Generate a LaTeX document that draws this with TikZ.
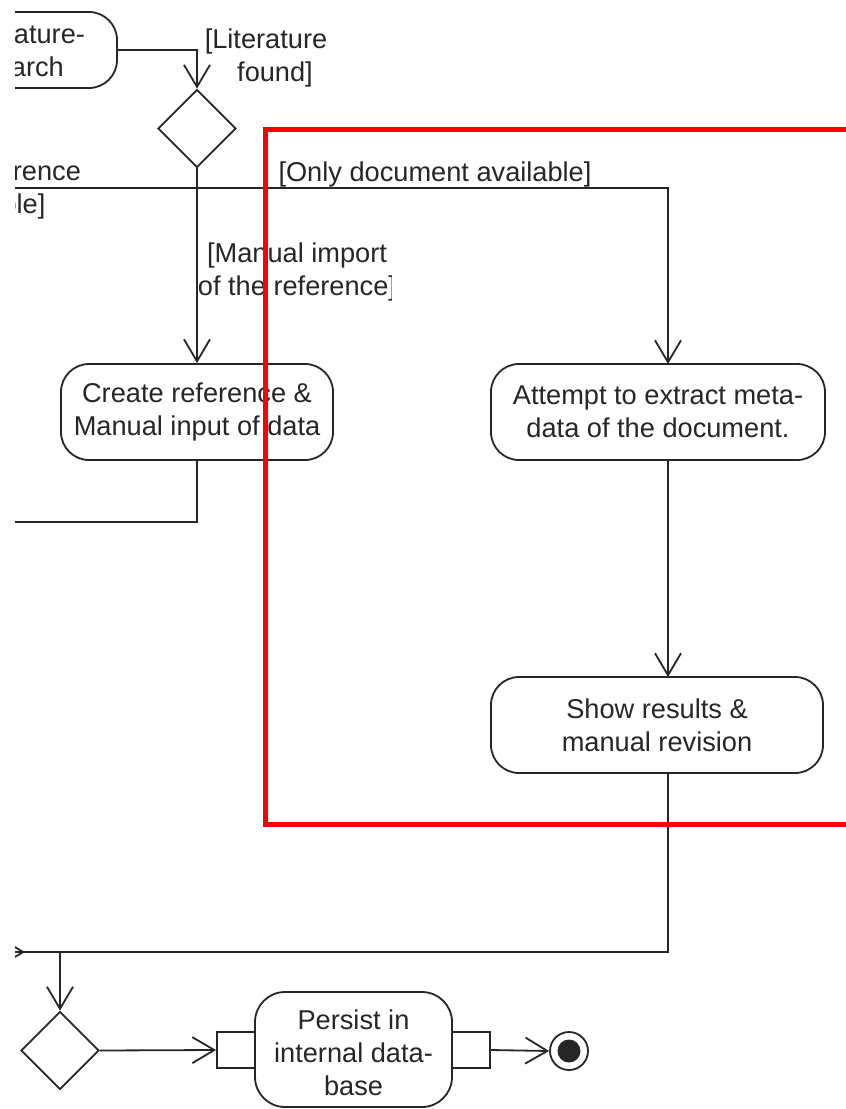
\documentclass[tikz,border=0pt]{standalone}
\usepackage{fontspec}
\setmainfont{Liberation Sans}
\usetikzlibrary{arrows.meta,shapes.geometric,calc}
\definecolor{ink}{HTML}{262626}
\definecolor{frame}{HTML}{FF0000}
\newcommand\dfont{\fontsize{27.2}{33}\selectfont}

\begin{document}
\begin{tikzpicture}[x=1pt,y=-1pt,
  flow/.style={draw=ink,line width=1.8pt},
  arr/.style={flow,-{Straight Barb[length=22pt,width=26pt]}},
  action/.style={draw=ink,line width=1.8pt,rounded corners=28pt,align=center,
    inner sep=0pt,font=\dfont,text=ink},
  decision/.style={diamond,draw=ink,line width=1.8pt,minimum width=78pt,
    minimum height=78pt,inner sep=0pt},
  pin/.style={rectangle,draw=ink,line width=1.8pt,minimum width=38pt,
    minimum height=36pt,inner sep=0pt,fill=white},
  guard/.style={align=center,inner sep=0pt,font=\dfont,text=ink},
]
\useasboundingbox (0,0) rectangle (846,1109);
\fill[white] (0,0) rectangle (846,1109);
\begin{scope}
% visible part of the activity diagram
\clip (15,0) rectangle (846,1109);

% activity nodes
\node[action,minimum width=188pt,minimum height=76pt] (search) at (23,50) {Literature-\\search};
\node[decision] (choice) at (197,128.5) {};
\node[action,minimum width=272pt,minimum height=96pt] (create) at (197,412)
  {Create reference \&\\Manual input of data};
\node[action,minimum width=334pt,minimum height=96pt] (attempt) at (658,412)
  {Attempt to extract meta-\\data of the document.};
\node[action,minimum width=332pt,minimum height=96pt] (show) at (657,725)
  {Show results \&\\manual revision};
\node[decision] (merge) at (60,1050.5) {};
\node[action,minimum width=197pt,minimum height=115pt,rounded corners=30pt] (persist) at (353.5,1049.5)
  {\rule{0pt}{26pt}Persist in\\internal data-\\base};
\node[pin] (pinin) at (236,1050) {};
\node[pin] (pinout) at (471,1050) {};
\node[circle,draw=ink,line width=1.8pt,minimum size=38pt,inner sep=0pt] (final) at (569,1051) {};
\fill[ink] (final.center) circle (11.5);

% routing points
\coordinate (split) at (197,188);
\coordinate (leftout) at (-60,188);
\coordinate (ain) at (668,364);
\coordinate (aout) at (668,460);
\coordinate (sin) at (668,677);
\coordinate (sout) at (668,773);
\coordinate (cout) at (-60,522);
\coordinate (join) at (60,952);
\coordinate (joinleft) at (-60,952);
\coordinate (intip) at (25,952);
\coordinate (infrom) at (-60,952);

% connectors
\draw[arr] (search.east) -| (choice.north);
\draw[flow] (choice.south) -- (split) -- (leftout);
\draw[arr] (split) -| (ain);
\draw[arr] (choice.south) -- (create.north);
\draw[flow] (create.south) |- (cout);
\draw[arr] (aout) -- (sin);
\draw[flow] (sout) |- (joinleft);
\draw[arr] (infrom) -- (intip);
\draw[arr] (join) -- (merge.north);
\draw[arr] (merge.east) -- (pinin.west);
\draw[arr] (pinout.east) -- (final.west);

% guards
\node[guard] (gfound) at (266,58) {[Literature\\\hspace*{18pt}found]};
\node[guard] (gref) at (-12,190) {[Only reference\\available]};
\node[guard] (gdoc) at (435,174) {[Only document available]};
\begin{scope}
\clip (150,225) rectangle (391,310);
\node[guard] (gmanual) at (297,272) {[Manual import\\of the reference]};
\end{scope}

% highlight frame
\draw[frame,line width=5pt] (900,129.5) -- (265.5,129.5) -- (265.5,824) -- (900,824);
\end{scope}
\end{tikzpicture}
\end{document}
